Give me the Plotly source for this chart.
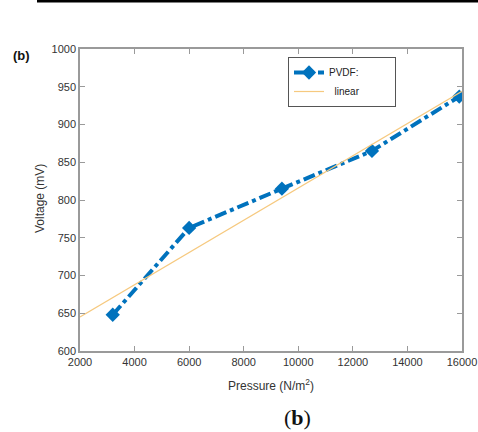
import plotly.graph_objects as go

pressure = [3200, 6000, 9400, 12700, 15900]
voltage = [648, 763, 815, 865, 937]

# linear fit line end points
linear_x = [2000, 16000]
linear_y = [645, 944]

x_ticks = [2000, 4000, 6000, 8000, 10000, 12000, 14000, 16000]
y_ticks = [600, 650, 700, 750, 800, 850, 900, 950, 1000]

W, H = 478, 432
L, R, T, B = 80, 16, 49, 81
pw, ph = W - L - R, H - T - B
NB = '\u00a0'


def px(x):
    return (x - L) / pw


def py(y):
    return (H - B - y) / ph


fig = go.Figure()

fig.add_trace(go.Scatter(x=pressure, y=voltage,
                         mode='lines+markers',
                         name='PVDF:' + NB * 11,
                         line=dict(color='#0072BD', width=4, dash='dashdot'),
                         marker=dict(symbol='diamond', size=11, color='#0072BD')))
fig.add_trace(go.Scatter(x=linear_x, y=linear_y,
                         mode='lines',
                         name=NB * 2 + 'linear',
                         line=dict(color='#F6C97F', width=1.2)))

axis_style = dict(showline=True, linecolor='#9a9a9a', linewidth=1.5, mirror='ticks',
                  ticks='inside', ticklen=5, tickcolor='#9a9a9a',
                  showgrid=False, zeroline=False, automargin=False,
                  tickfont=dict(family='Liberation Sans', size=11, color='#333333'))

fig.update_xaxes(range=[2000, 16000], tickvals=x_ticks, ticktext=[str(t) for t in x_ticks],
                 title=dict(text='Pressure (N/m<sup>2</sup>)',
                            font=dict(family='Liberation Sans', size=12, color='#333333')),
                 **axis_style)
fig.update_yaxes(range=[600, 1000], tickvals=y_ticks, ticktext=[str(t) for t in y_ticks],
                 **axis_style)

fig.update_layout(width=W, height=H,
                  margin=dict(l=L, r=R, t=T, b=B),
                  paper_bgcolor='white', plot_bgcolor='white',
                  showlegend=True,
                  legend=dict(x=px(288), y=py(57), xanchor='left', yanchor='top',
                              bgcolor='white', bordercolor='#555555', borderwidth=1,
                              font=dict(family='Liberation Sans', size=10, color='#222222'),
                              tracegroupgap=0))

# y axis title placed by hand to sit where the original has it
fig.add_annotation(text='Voltage (mV)', xref='paper', yref='paper',
                   x=px(40), y=py(199), textangle=-90, xanchor='center', yanchor='middle',
                   showarrow=False,
                   font=dict(family='Liberation Sans', size=12, color='#333333'))

# top rule of the page
fig.add_shape(type='rect', xref='paper', yref='paper',
              x0=px(37), x1=px(478), y0=py(2.5), y1=py(0),
              fillcolor='black', line=dict(width=0))

fig.add_annotation(text='<b>(b)</b>', xref='paper', yref='paper',
                   x=px(21), y=py(55), xanchor='center', yanchor='middle', showarrow=False,
                   font=dict(family='Liberation Sans', size=13, color='#111111'))
fig.add_annotation(text='(<b>b</b>)', xref='paper', yref='paper',
                   x=px(297), y=py(417), xanchor='center', yanchor='middle', showarrow=False,
                   font=dict(family='Liberation Serif', size=22, color='#111111'))

# drop the default body margin so the figure sits at the page origin
fig.write_html("out.html", config={'displayModeBar': False},
               post_script="document.body.style.margin='0';")
